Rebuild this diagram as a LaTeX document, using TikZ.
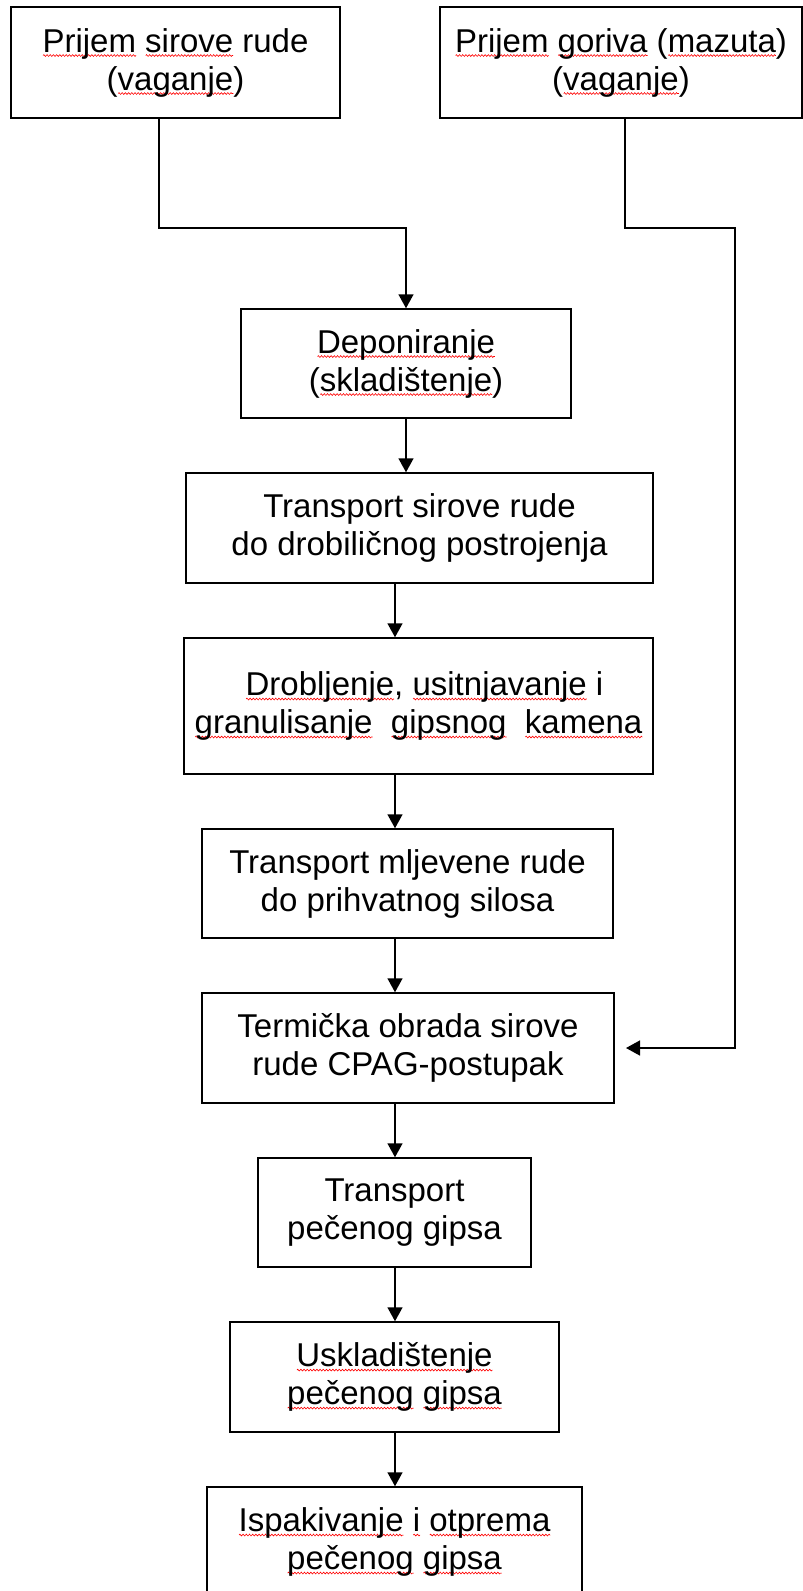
\documentclass[tikz,border=0pt]{standalone}
\usepackage{fontspec}
\setmainfont{Liberation Sans}
\usetikzlibrary{arrows.meta,decorations.pathmorphing}
\newlength\sqwlen
\newcommand\sqw[1]{\settowidth\sqwlen{#1}\rlap{\tikz[baseline=0pt]{\useasboundingbox (0pt,0pt); \draw[red, line width=0.6pt, solid, decorate, decoration={zigzag, segment length=3.2pt, amplitude=0.9pt}] (0.5pt,-3.5pt) -- (\sqwlen,-3.5pt);}}#1}
\begin{document}
\begin{tikzpicture}[x=1pt,y=-1pt,
  box/.style={draw=black, line width=1.5pt, inner sep=0pt, align=center,
    font=\fontsize{33}{38}\selectfont, text=black},
  conn/.style={line width=1.5pt, draw=black},
  arr/.style={conn, -{Triangle[width=15pt,length=14pt]}}]
\useasboundingbox (0,0) rectangle (803,1591);
\node[box, minimum width=329, minimum height=111] (b1) at (175.5,62.5)
  {\sqw{Prijem} \sqw{sirove} rude\\(\sqw{vaganje})};
\node[box, minimum width=362, minimum height=111] (b2) at (621,62.5)
  {\sqw{Prijem} \sqw{goriva} (\sqw{mazuta})\\(\sqw{vaganje})};
\node[box, minimum width=330, minimum height=109] (dep) at (406,363.5)
  {\sqw{Deponiranje}\\(\sqw{skladištenje})};
\node[box, minimum width=467, minimum height=110] (tsr) at (419.5,528)
  {Transport sirove rude\\do drobiličnog postrojenja};
\node[box, minimum width=469, minimum height=136] (drob) at (418.5,706)
  {\hspace*{12pt}\sqw{Drobljenje}, \sqw{usitnjavanje} i\\\sqw{granulisanje}\ \ \sqw{gipsnog}\ \ \sqw{kamena}};
\node[box, minimum width=411, minimum height=109] (tml) at (407.5,883.5)
  {Transport mljevene rude\\do prihvatnog silosa};
\node[box, minimum width=412, minimum height=110] (term) at (408,1048)
  {Termička obrada sirove\\rude CPAG-postupak};
\node[box, minimum width=273, minimum height=109] (tpg) at (394.5,1212.5)
  {Transport\\pečenog gipsa};
\node[box, minimum width=329, minimum height=110] (usk) at (394.5,1377)
  {\sqw{Uskladištenje}\\\sqw{pečenog} \sqw{gipsa}};
\node[box, minimum width=375, minimum height=110] (isp) at (394.5,1542)
  {\sqw{Ispakivanje} \sqw{i} \sqw{otprema}\\\sqw{pečenog} \sqw{gipsa}};
% routing coordinates
\coordinate (k1) at (159,228);
\coordinate (k2) at (625,228);
\coordinate (k3) at (735,1048);
\coordinate (tip) at (626,1048);
\coordinate (ax) at (395,0);
% connectors
\draw[arr] (b1.south -| k1) -- (k1) -| (dep.north);
\draw[arr] (b2.south -| k2) -- (k2) -| (k3) -- (tip);
\draw[arr] (dep.south) -- (tsr.north -| dep.south);
\draw[arr] (tsr.south -| ax) -- (drob.north -| ax);
\draw[arr] (drob.south -| ax) -- (tml.north -| ax);
\draw[arr] (tml.south -| ax) -- (term.north -| ax);
\draw[arr] (term.south -| ax) -- (tpg.north -| ax);
\draw[arr] (tpg.south -| ax) -- (usk.north -| ax);
\draw[arr] (usk.south -| ax) -- (isp.north -| ax);
\end{tikzpicture}
\end{document}
